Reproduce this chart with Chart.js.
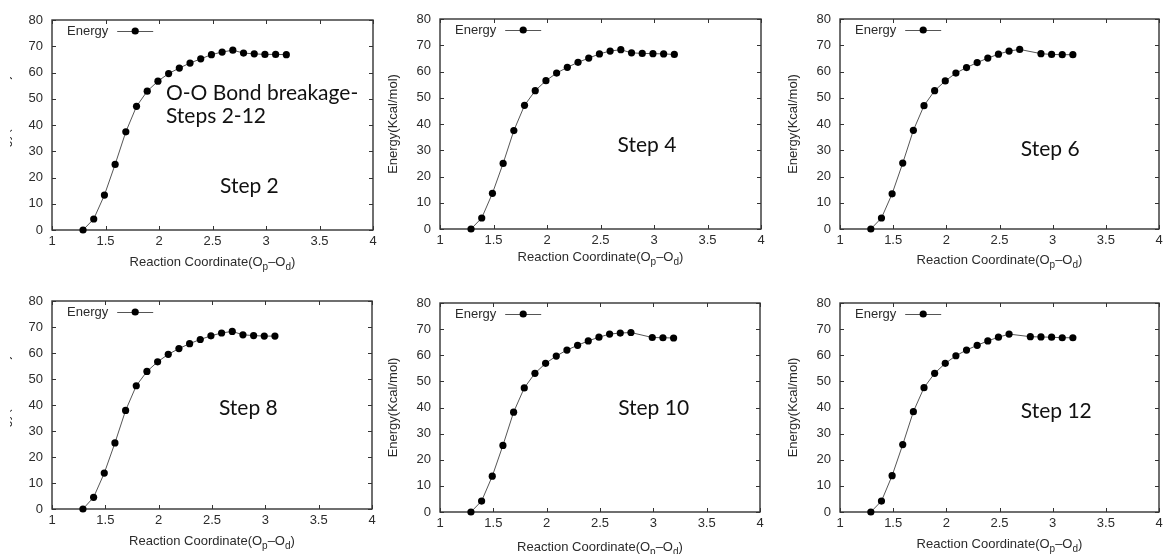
<!DOCTYPE html>
<html>
<head>
<meta charset="utf-8">
<script src="https://cdn.jsdelivr.net/npm/chart.js@4.4.0/dist/chart.umd.min.js"></script>
<style>
  html, body { margin: 0; padding: 0; background: #fff; overflow: hidden; }
  body { width: 1164px; height: 554px; position: relative; }
  .panel { position: absolute; overflow: hidden; }
  .panel canvas { position: absolute; top: 0; }
</style>
</head>
<body>
<script>
// reaction coordinate (O-O distance) sampled along the scan
const coordX = [1.29, 1.39, 1.49, 1.59, 1.69, 1.79, 1.89, 1.99, 2.09, 2.19,
                2.29, 2.39, 2.49, 2.59, 2.69, 2.79, 2.89, 2.99, 3.09, 3.19];

// energies in kcal/mol, null where the step has no point
const energyStep2  = [0, 4.2, 13.3, 25.0, 37.4, 47.1, 52.9, 56.7, 59.6, 61.7, 63.6, 65.2, 66.8, 67.8, 68.5, 67.4, 67.1, 66.9, 66.9, 66.8];
const energyStep4  = [0, 4.2, 13.6, 25.0, 37.5, 47.1, 52.7, 56.5, 59.4, 61.6, 63.5, 65.1, 66.7, 67.8, 68.3, 67.1, 66.9, 66.8, 66.7, 66.5];
const energyStep6  = [0, 4.2, 13.4, 25.1, 37.6, 47.0, 52.7, 56.4, 59.4, 61.5, 63.4, 65.1, 66.6, 67.8, 68.4, null, 66.8, 66.5, 66.4, 66.4];
const energyStep8  = [0, 4.5, 13.8, 25.4, 37.9, 47.4, 52.9, 56.6, 59.5, 61.7, 63.6, 65.2, 66.6, 67.7, 68.3, 67.0, 66.7, 66.5, 66.5, null];
const energyStep10 = [0, 4.2, 13.7, 25.5, 38.2, 47.5, 53.1, 56.9, 59.7, 62.0, 63.8, 65.5, 66.9, 68.1, 68.5, 68.7, null, 66.8, 66.7, 66.6];
const energyStep12 = [0, 4.2, 13.9, 25.8, 38.4, 47.6, 53.1, 56.9, 59.8, 62.0, 63.8, 65.5, 66.9, 68.1, null, 67.1, 67.0, 66.9, 66.7, 66.7];

const stepNames = ["Step 2", "Step 4", "Step 6", "Step 8", "Step 10", "Step 12"];
const headline = ["O-O Bond breakage-", "Steps 2-12"];

const xTicks = [1, 1.5, 2, 2.5, 3, 3.5, 4];
const yTicks = [0, 10, 20, 30, 40, 50, 60, 70, 80];

const seriesLabel = "Energy";
const yTitle = "Energy(Kcal/mol)";

// layout: plot frame in page pixels [left, top, right, bottom]
const panels = [
    { energy: energyStep2,  frame: [52, 20, 373, 230],   clipLeft: 10, titleGap: 36, note: [2.57, 14.1] },
    { energy: energyStep4,  frame: [440, 19, 761, 229],  titleGap: 32, note: [2.66, 29.3] },
    { energy: energyStep6,  frame: [840, 19, 1159, 229], titleGap: 35, note: [2.70, 27.8] },
    { energy: energyStep8,  frame: [52, 301, 372, 509],  clipLeft: 10, titleGap: 36, note: [2.565, 36.2] },
    { energy: energyStep10, frame: [440, 303, 760, 512], titleGap: 39, note: [2.67, 37.1] },
    { energy: energyStep12, frame: [840, 303, 1159, 512], titleGap: 36, note: [2.70, 36.0] },
];
const headlinePos = [[2.065, 49.5], [2.065, 40.8]];

const AXIS_FONT = "'Liberation Sans', Arial, sans-serif";
const NOTE_FONT = "Lato, 'Open Sans', sans-serif";
const INK = '#2b2b2b';

const gnuplotLook = {
    id: 'gnuplotLook',
    beforeDatasetsDraw(chart) {
        const { ctx, chartArea: a, scales: { x, y } } = chart;
        ctx.save();
        ctx.strokeStyle = '#333';
        ctx.lineWidth = 1.4;
        ctx.strokeRect(a.left, a.top, a.right - a.left, a.bottom - a.top);
        ctx.lineWidth = 1;
        ctx.beginPath();
        for (const v of xTicks) {
            const px = Math.round(x.getPixelForValue(v)) + 0.5;
            ctx.moveTo(px, a.bottom); ctx.lineTo(px, a.bottom - 4);
            ctx.moveTo(px, a.top); ctx.lineTo(px, a.top + 4);
        }
        for (const v of yTicks) {
            const py = Math.round(y.getPixelForValue(v)) + 0.5;
            ctx.moveTo(a.left, py); ctx.lineTo(a.left + 4, py);
            ctx.moveTo(a.right, py); ctx.lineTo(a.right - 4, py);
        }
        ctx.stroke();
        ctx.restore();
    },
    afterDatasetsDraw(chart, args, opts) {
        const { ctx, chartArea: a, scales: { x, y } } = chart;
        ctx.save();

        // key, top left inside the frame
        ctx.font = `13px ${AXIS_FONT}`;
        ctx.fillStyle = INK;
        ctx.textBaseline = 'middle';
        ctx.textAlign = 'left';
        const ky = a.top + 11;
        const kx = a.left + 15;
        ctx.fillText(seriesLabel, kx, ky);
        const lx = kx + ctx.measureText(seriesLabel).width + 9;
        ctx.strokeStyle = '#555';
        ctx.lineWidth = 1;
        ctx.beginPath();
        ctx.moveTo(lx, ky + 0.5); ctx.lineTo(lx + 36, ky + 0.5);
        ctx.stroke();
        ctx.fillStyle = '#000';
        ctx.beginPath();
        ctx.arc(lx + 18, ky, 3.6, 0, Math.PI * 2);
        ctx.fill();

        // x title with subscripts
        const parts = [["Reaction Coordinate(O", false], ["p", true], ["\u2013O", false], ["d", true], [")", false]];
        const big = `13px ${AXIS_FONT}`, small = `10px ${AXIS_FONT}`;
        let total = 0;
        for (const [t, sub] of parts) { ctx.font = sub ? small : big; total += ctx.measureText(t).width; }
        let tx = (a.left + a.right) / 2 - total / 2;
        const base = a.bottom + opts.titleGap;
        ctx.fillStyle = INK;
        ctx.textBaseline = 'alphabetic';
        for (const [t, sub] of parts) {
            ctx.font = sub ? small : big;
            ctx.fillText(t, tx, sub ? base + 4 : base);
            tx += ctx.measureText(t).width;
        }

        // annotations placed in data coordinates
        ctx.font = `21px ${NOTE_FONT}`;
        ctx.fillStyle = '#111';
        for (const n of opts.notes) {
            ctx.fillText(n.text, x.getPixelForValue(n.at[0]), y.getPixelForValue(n.at[1]));
        }
        ctx.restore();
    }
};

panels.forEach((p, i) => {
    const [l, t, r, b] = p.frame;
    const cLeft = l - 60, cTop = t - 20;
    const w = r - l + 68, h = b - t + 68;
    const wrapLeft = p.clipLeft !== undefined ? p.clipLeft : cLeft;

    const wrap = document.createElement('div');
    wrap.className = 'panel';
    wrap.style.left = wrapLeft + 'px';
    wrap.style.top = cTop + 'px';
    wrap.style.width = (cLeft + w - wrapLeft) + 'px';
    wrap.style.height = h + 'px';
    const canvas = document.createElement('canvas');
    canvas.width = w;
    canvas.height = h;
    canvas.style.left = (cLeft - wrapLeft) + 'px';
    wrap.appendChild(canvas);
    document.body.appendChild(wrap);

    const points = [];
    p.energy.forEach((e, k) => { if (e !== null) points.push({ x: coordX[k], y: e }); });

    const notes = [{ text: stepNames[i], at: p.note }];
    if (i === 0) headline.forEach((text, k) => notes.push({ text, at: headlinePos[k] }));

    new Chart(canvas, {
        type: 'line',
        data: {
            datasets: [{
                label: seriesLabel,
                data: points,
                borderColor: '#555',
                borderWidth: 1,
                pointRadius: 3.6,
                pointHoverRadius: 3.6,
                pointBackgroundColor: '#000',
                pointBorderColor: '#000',
                pointBorderWidth: 0,
                tension: 0,
                clip: false,
            }]
        },
        options: {
            responsive: false,
            animation: false,
            devicePixelRatio: 1,
            layout: { padding: { left: 0, top: 20, right: 8, bottom: 0 } },
            plugins: {
                legend: { display: false },
                tooltip: { enabled: false },
                gnuplotLook: { titleGap: p.titleGap, notes: notes },
            },
            scales: {
                x: {
                    type: 'linear',
                    min: 1, max: 4,
                    afterFit: (s) => { s.height = 48; },
                    afterBuildTicks: (s) => { s.ticks = xTicks.map(v => ({ value: v })); },
                    grid: { display: false, drawTicks: false },
                    border: { display: false },
                    ticks: {
                        color: INK, font: { family: AXIS_FONT, size: 13 }, padding: 4, maxRotation: 0,
                        callback: (v) => String(v),
                    },
                },
                y: {
                    min: 0, max: 80,
                    afterFit: (s) => { s.width = 60; },
                    afterBuildTicks: (s) => { s.ticks = yTicks.map(v => ({ value: v })); },
                    grid: { display: false, drawTicks: false },
                    border: { display: false },
                    ticks: { color: INK, font: { family: AXIS_FONT, size: 13 }, padding: 9, callback: (v) => String(v) },
                    title: {
                        display: true,
                        text: yTitle,
                        color: INK,
                        font: { family: AXIS_FONT, size: 13 },
                        padding: { top: 6, bottom: 0 },
                    },
                },
            },
        },
        plugins: [gnuplotLook],
    });
});
</script>
</body>
</html>
